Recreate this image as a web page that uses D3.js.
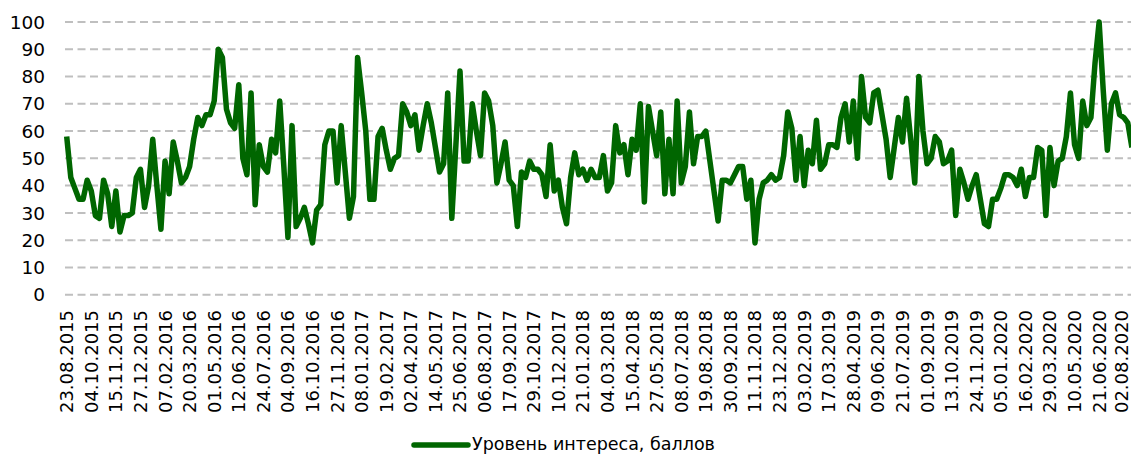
<!DOCTYPE html>
<html>
<head>
<meta charset="utf-8">
<script type="text/javascript" src="https://cdn.jsdelivr.net/npm/d3@7/dist/d3.min.js"></script>
<style>
    body { margin: 0; background: #fff; }
    svg text { font-family: "DejaVu Sans", sans-serif; fill: #000; }
</style>
</head>
<body>
<div id="chart"></div>

<script type="text/javascript">
    // weekly values, 23.08.2015 .. 16.08.2020
    var interest = [
        58, 43, 39, 35, 35, 42, 38, 29, 28, 42, 37, 25, 38, 23, 29, 29, 30, 43, 46, 32,
        40, 57, 40, 24, 49, 37, 56, 49, 41, 43, 47, 57, 65, 62, 66, 66, 71, 90, 87, 68,
        63, 61, 77, 50, 44, 74, 33, 55, 47, 45, 57, 52, 71, 47, 21, 62, 25, 28, 32, 26,
        19, 31, 33, 55, 60, 60, 41, 62, 45, 28, 36, 87, 74, 60, 35, 35, 58, 61, 53, 46,
        50, 51, 70, 67, 62, 66, 53, 62, 70, 63, 54, 45, 48, 74, 28, 55, 82, 49, 49, 70,
        60, 51, 74, 71, 62, 41, 48, 56, 42, 40, 25, 45, 43, 49, 46, 46, 44, 36, 55, 38,
        42, 32, 26, 43, 52, 44, 46, 42, 46, 43, 43, 51, 38, 41, 62, 52, 55, 44, 57, 53,
        70, 34, 69, 60, 51, 67, 37, 57, 37, 71, 41, 47, 67, 48, 58, 58, 60, 49, 38, 27,
        42, 42, 41, 44, 47, 47, 35, 42, 19, 35, 41, 42, 44, 42, 43, 51, 67, 61, 42, 58,
        40, 53, 48, 64, 46, 48, 55, 55, 54, 65, 70, 56, 71, 50, 80, 65, 63, 74, 75, 66,
        57, 43, 54, 65, 56, 72, 57, 41, 80, 60, 48, 50, 58, 56, 48, 49, 53, 29, 46, 41,
        35, 40, 44, 35, 26, 25, 35, 35, 39, 44, 44, 43, 40, 46, 36, 43, 43, 54, 53, 29,
        54, 40, 49, 50, 58, 74, 55, 50, 71, 62, 65, 85, 100, 75, 53, 70, 74, 66, 65, 63,
        54
    ];

    var tickLabels = [
        "23.08.2015", "04.10.2015", "15.11.2015", "27.12.2015", "07.02.2016", "20.03.2016",
        "01.05.2016", "12.06.2016", "24.07.2016", "04.09.2016", "16.10.2016", "27.11.2016",
        "08.01.2017", "19.02.2017", "02.04.2017", "14.05.2017", "25.06.2017", "06.08.2017",
        "17.09.2017", "29.10.2017", "10.12.2017", "21.01.2018", "04.03.2018", "15.04.2018",
        "27.05.2018", "08.07.2018", "19.08.2018", "30.09.2018", "11.11.2018", "23.12.2018",
        "03.02.2019", "17.03.2019", "28.04.2019", "09.06.2019", "21.07.2019", "01.09.2019",
        "13.10.2019", "24.11.2019", "05.01.2020", "16.02.2020", "29.03.2020", "10.05.2020",
        "21.06.2020", "02.08.2020"
    ];

    var yTicks = [0, 10, 20, 30, 40, 50, 60, 70, 80, 90, 100];
    var seriesName = "Уровень интереса, баллов";

    // one category per week
    var fmt = d3.timeFormat("%d.%m.%Y");
    var start = new Date(2015, 7, 23);
    var weeks = interest.map(function (v, i) { return fmt(d3.timeDay.offset(start, 7 * i)); });

    var width = 1131, height = 454;

    var svg = d3.select("#chart").append("svg")
        .attr("width", width)
        .attr("height", height);

    var x = d3.scalePoint()
        .domain(weeks)
        .range([66.7, 1131.9]);

    var y = d3.scaleLinear()
        .domain([0, 100])
        .range([294.7, 22]);

    // gridlines
    svg.append("g")
        .selectAll("line")
        .data(yTicks)
        .join("line")
        .attr("x1", 65)
        .attr("x2", width)
        .attr("y1", d => y(d))
        .attr("y2", d => y(d))
        .style("stroke", "#bfbfbf")
        .style("stroke-width", 2)
        .style("stroke-dasharray", "8 4.5");

    // y labels
    svg.append("g")
        .selectAll("text")
        .data(yTicks)
        .join("text")
        .attr("x", 45)
        .attr("y", d => y(d))
        .attr("dy", "0.36em")
        .attr("text-anchor", "end")
        .style("font-size", "18.5px")
        .text(d => d);

    // x labels, rotated
    svg.append("g")
        .selectAll("text")
        .data(tickLabels)
        .join("text")
        .attr("transform", d => "translate(" + Math.min(x(d), 1122) + ",310) rotate(-90)")
        .attr("dy", "0.36em")
        .attr("text-anchor", "end")
        .style("font-size", "18px")
        .text(d => d);

    var line = d3.line()
        .x((d, i) => x(weeks[i]))
        .y(d => y(d));

    svg.append("path")
        .datum(interest)
        .attr("d", line)
        .style("fill", "none")
        .style("stroke", "#006600")
        .style("stroke-width", 5.5)
        .style("stroke-linejoin", "round");

    // legend
    var legend = svg.append("g");
    legend.append("line")
        .attr("x1", 414)
        .attr("x2", 468)
        .attr("y1", 445)
        .attr("y2", 445)
        .style("stroke", "#006600")
        .style("stroke-width", 5.5)
        .style("stroke-linecap", "round");
    legend.append("text")
        .attr("x", 472)
        .attr("y", 444)
        .attr("dy", "0.36em")
        .style("font-size", "17.5px")
        .text(seriesName);
</script>
</body>
</html>
